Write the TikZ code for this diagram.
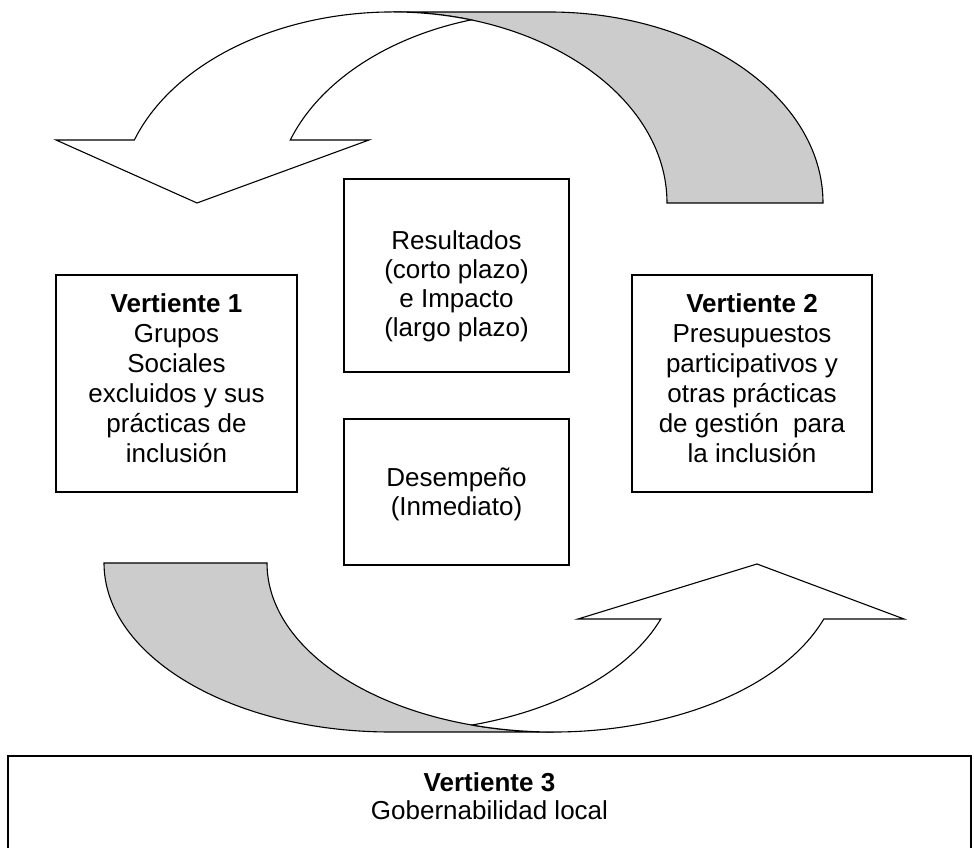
\documentclass[tikz,border=0pt]{standalone}
\usepackage{fontspec}
\setmainfont{Liberation Sans}
\begin{document}
\begin{tikzpicture}[x=1pt,y=1pt,
  box/.style={draw=black,line width=1.3pt,fill=white,inner sep=0pt},
  band/.style={draw=black,line width=1.1pt,fill=black!20,line join=miter},
  wharrow/.style={draw=black,line width=1.1pt,fill=white,line join=miter},
  txt/.style={align=center,inner sep=0pt,anchor=north,font=\fontsize{26}{30}\selectfont},
  txtc/.style={align=center,inner sep=0pt,anchor=north,font=\fontsize{26}{29}\selectfont},
  txtb/.style={align=center,inner sep=0pt,anchor=north,font=\fontsize{26}{28}\selectfont}]
\useasboundingbox (0,0) rectangle (974,848);
\clip (0,0) rectangle (974,848);
% top curved arrow (gray back band)
\path[band] (393,836) -- (549,836)
  arc[start angle=90,end angle=0,x radius=274,y radius=191]
  -- (667,645)
  arc[start angle=0,end angle=90,x radius=274,y radius=191] -- cycle;
% top curved arrow (white front with head)
\path[wharrow] (471,828.1)
  arc[start angle=73.46,end angle=160.74,x radius=274,y radius=191]
  -- (56,708) -- (197,645) -- (369,708) -- (290.3,708)
  arc[start angle=160.74,end angle=106.54,x radius=274,y radius=191] -- cycle;
% bottom curved arrow (gray back band)
\path[band] (267,285)
  arc[start angle=180,end angle=270,x radius=286.5,y radius=169]
  -- (390.5,116)
  arc[start angle=270,end angle=180,x radius=286.5,y radius=169] -- cycle;
% bottom curved arrow (white front with head)
\path[wharrow] (472,123)
  arc[start angle=253.47,end angle=340.65,x radius=286.5,y radius=169]
  -- (904,229) -- (757,284) -- (578,229) -- (660.8,229)
  arc[start angle=340.65,end angle=286.53,x radius=286.5,y radius=169] -- cycle;
% boxes
\node[box,minimum width=241pt,minimum height=217pt] (v1) at (176.5,464.5) {};
\node[box,minimum width=240pt,minimum height=217pt] (v2) at (752,464.5) {};
\node[box,minimum width=225pt,minimum height=193pt] (res) at (456.5,572.5) {};
\node[box,minimum width=225pt,minimum height=146pt] (des) at (456.5,356) {};
\node[box,minimum width=963pt,minimum height=184pt] (v3) at (489.5,0) {};
% texts
\node[txt] (t1) at (176.5,554.9) {\textbf{Vertiente 1}\\Grupos\\Sociales\\excluidos y sus\\prácticas de\\inclusión};
\node[txt] (t2) at (752,554.9) {\textbf{Vertiente 2}\\Presupuestos\\participativos y\\otras prácticas\\de gestión~ para\\la inclusión};
\node[txtc] (tres) at (456.5,617.8) {Resultados\\(corto plazo)\\e Impacto\\(largo plazo)};
\node[txtc] (tdes) at (456.5,380.8) {Desempeño\\(Inmediato)};
\node[txtb] (t3) at (489.5,75.6) {\textbf{Vertiente 3}\\Gobernabilidad local};
\end{tikzpicture}
\end{document}
